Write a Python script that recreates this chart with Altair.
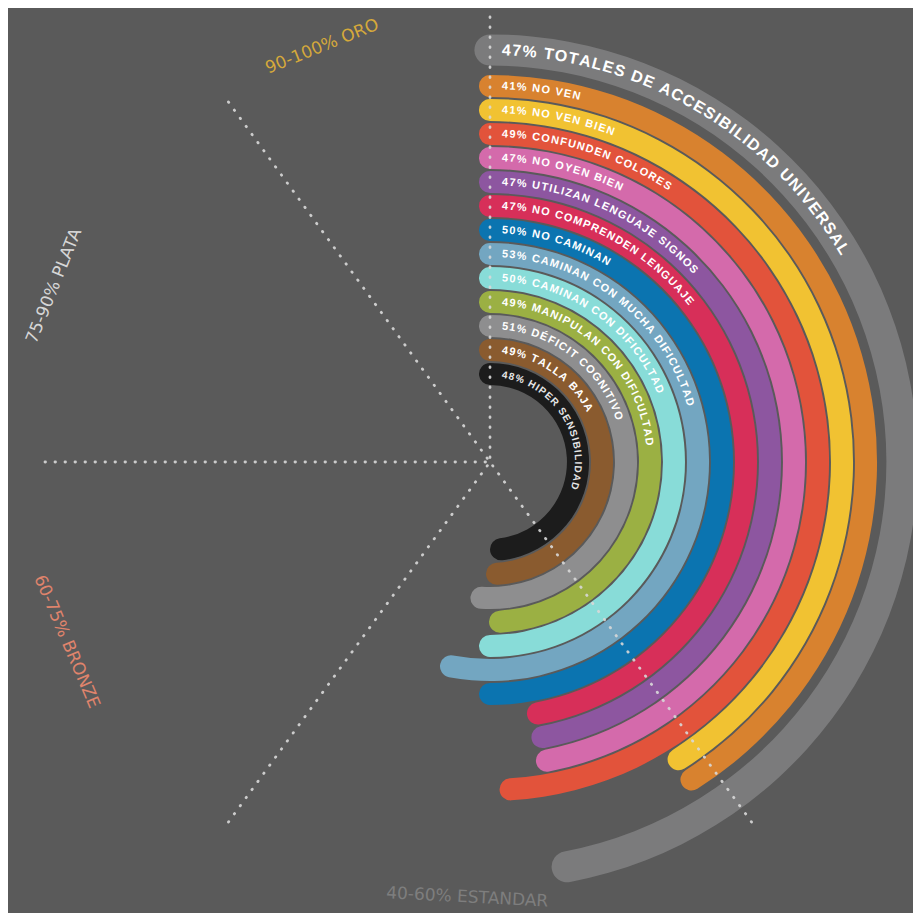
import math
import altair as alt
import pandas as pd

# ---------------- data ----------------
names = [
    "TOTALES DE ACCESIBILIDAD UNIVERSAL",
    "NO VEN",
    "NO VEN BIEN",
    "CONFUNDEN COLORES",
    "NO OYEN BIEN",
    "UTILIZAN LENGUAJE SIGNOS",
    "NO COMPRENDEN LENGUAJE",
    "NO CAMINAN",
    "CAMINAN CON MUCHA DIFICULTAD",
    "CAMINAN CON DIFICULTAD",
    "MANIPULAN CON DIFICULTAD",
    "DÉFICIT COGNITIVO",
    "TALLA BAJA",
    "HIPER SENSIBILIDAD",
]
percent = [47, 41, 41, 49, 47, 47, 47, 50, 53, 50, 49, 51, 49, 48]
colors = [
    "#7b7b7c", "#d8822f", "#f1c232", "#e2533b", "#d46aab", "#8d56a0",
    "#d72f59", "#0b74b0", "#73a6c1", "#88dcd8", "#9bb043", "#8e8e8f",
    "#8a5b2f", "#1c1c1c",
]

zone_bounds = [40, 60, 75, 90, 100]
zone_labels = ["40-60% ESTANDAR", "60-75% BRONZE", "75-90% PLATA", "90-100% ORO"]
zone_colors = ["#7e7e7e", "#e0846c", "#d6d6d6", "#d5a93b"]

# ---------------- layout / style ----------------
CX, CY = 482, 454          # centre of the rings inside the plot area
R0, STEP = 88, 24          # radius scale: ring position 0 -> 88px, +24px per ring
RULE_LEN = 445
zone_label_theta = [183, 247, 292, 338]   # degrees, annotation placement
zone_label_radius = [436, 460, 470, 448]  # px

FONT = "Liberation Sans"
W = {' ': 278, '%': 889, '-': 333, 'A': 722, 'B': 722, 'C': 722, 'D': 722,
     'E': 667, 'É': 667, 'F': 611, 'G': 778, 'H': 722, 'I': 278, 'J': 556,
     'K': 722, 'L': 611, 'M': 833, 'N': 722, 'O': 778, 'P': 667, 'Q': 778,
     'R': 722, 'S': 667, 'T': 611, 'U': 722, 'V': 667, 'W': 944, 'X': 667,
     'Y': 667, 'Z': 611}
for d in "0123456789":
    W[d] = 556

n = len(names)
ring_pos = [13.5] + [13 - k for k in range(1, n)]
half_w = [0.65] + [0.46] * (n - 1)
font_size = [16] + [11] * (n - 2) + [10]
tracking = [1.4] + [1.3] * (n - 1)


def px(pos):
    return R0 + STEP * pos


arc_rows, char_rows = [], []
for i in range(n):
    rmid = px(ring_pos[i])
    cap = (half_w[i] * STEP) / (2 * math.pi * rmid)
    arc_rows.append(dict(
        name=names[i], pct=percent[i], color=colors[i],
        t0=-cap, t1=percent[i] / 100 + cap,
        r_in=ring_pos[i] - half_w[i], r_out=ring_pos[i] + half_w[i],
    ))
    label = f"{percent[i]}% {names[i]}"
    s = font_size[i]
    off = 12.0
    for j, ch in enumerate(label):
        w = W.get(ch, 667) * s / 1000
        frac = (off + w / 2) / (2 * math.pi * rmid)
        char_rows.append(dict(ch=ch, th=frac, pos=ring_pos[i],
                              ang=(frac * 360) % 360, size=s,
                              tcolor="#ffffff" if i < n - 1 else "#e6e6e6",
                              key=f"{i}-{j}"))
        off += w + tracking[i]

arcs_df = pd.DataFrame(arc_rows)
chars_df = pd.DataFrame(char_rows)

rule_rows = []
for b in zone_bounds:
    f = b / 100
    rule_rows.append(dict(b=b,
                          x=CX + RULE_LEN * math.sin(2 * math.pi * f),
                          y=CY - RULE_LEN * math.cos(2 * math.pi * f),
                          x0=CX, y0=CY))
rules_df = pd.DataFrame(rule_rows)

zone_rows = []
for k, lab in enumerate(zone_labels):
    t = zone_label_theta[k]
    ang = t - 180 if 90 < t < 270 else t
    zone_rows.append(dict(label=lab, th=t / 360,
                          pos=(zone_label_radius[k] - R0) / STEP,
                          ang=ang % 360, color=zone_colors[k]))
zones_df = pd.DataFrame(zone_rows)

theta_scale = alt.Scale(type="linear", domain=[0, 1], range=[0, 2 * math.pi])
radius_scale = alt.Scale(type="linear", domain=[0, 14], range=[R0, R0 + 14 * STEP])

arcs = alt.Chart(arcs_df).mark_arc(cornerRadius=20).encode(
    x=alt.value(CX), y=alt.value(CY),
    theta=alt.Theta("t0:Q", scale=theta_scale, stack=None),
    theta2="t1:Q",
    radius=alt.Radius("r_out:Q", scale=radius_scale),
    radius2="r_in:Q",
    color=alt.Color("color:N", scale=None),
    order=alt.Order("r_out:Q"),
)

chars = alt.Chart(chars_df).mark_text(
    font=FONT, fontWeight="bold", align="center", baseline="middle"
).encode(
    x=alt.value(CX), y=alt.value(CY),
    theta=alt.Theta("th:Q", scale=theta_scale, stack=None),
    radius=alt.Radius("pos:Q", scale=radius_scale),
    text="ch:N",
    angle=alt.Angle("ang:Q", scale=None),
    size=alt.Size("size:Q", scale=None),
    color=alt.Color("tcolor:N", scale=None),
    detail="key:N",
)

rules = alt.Chart(rules_df).mark_rule(
    color="#d8d8d8", strokeWidth=2.8, strokeDash=[0.5, 9.5], strokeCap="round", opacity=0.9
).encode(
    x=alt.X("x:Q", scale=None, axis=None),
    y=alt.Y("y:Q", scale=None, axis=None),
    x2="x0:Q", y2="y0:Q",
)

zones = alt.Chart(zones_df).mark_text(
    font="DejaVu Sans", fontSize=17, align="center", baseline="middle"
).encode(
    x=alt.value(CX), y=alt.value(CY),
    theta=alt.Theta("th:Q", scale=theta_scale, stack=None),
    radius=alt.Radius("pos:Q", scale=radius_scale),
    text="label:N",
    angle=alt.Angle("ang:Q", scale=None),
    color=alt.Color("color:N", scale=None),
)

chart = alt.layer(arcs, chars, rules, zones).properties(
    width=905, height=905, padding=0,
    autosize=alt.AutoSizeParams(type="none"),
    background="#5a5a5a",
).configure_view(stroke=None)

chart.save("out.html", embed_options={"renderer": "svg", "actions": False})
